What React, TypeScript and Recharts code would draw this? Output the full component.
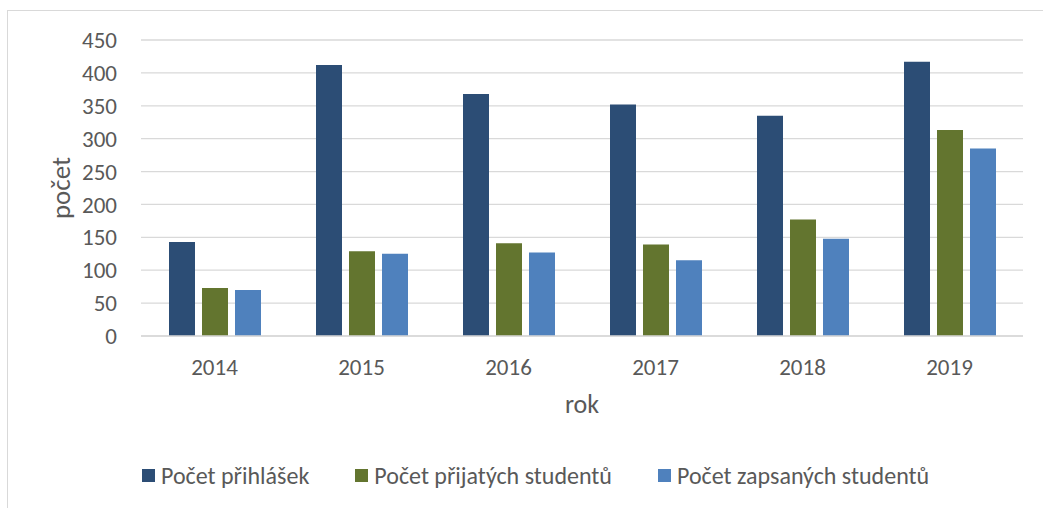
import React from 'react';
import { BarChart, Bar, XAxis, YAxis, CartesianGrid, Legend } from 'recharts';

const years = ['2014', '2015', '2016', '2017', '2018', '2019'];
const prihlasky = [143, 412, 368, 352, 335, 417];
const prijati = [73, 129, 141, 139, 177, 313];
const zapsani = [70, 125, 127, 115, 148, 285];
const yTicks = [0, 50, 100, 150, 200, 250, 300, 350, 400, 450];

const series = [
  { key: 'prihlasky', name: 'Počet přihlášek', color: '#2C4D75' },
  { key: 'prijati', name: 'Počet přijatých studentů', color: '#63752F' },
  { key: 'zapsani', name: 'Počet zapsaných studentů', color: '#4F81BD' },
];

const data = years.map((rok, i) => ({
  rok,
  prihlasky: prihlasky[i],
  prijati: prijati[i],
  zapsani: zapsani[i],
}));

const FONT = "Carlito, 'Liberation Sans Narrow', 'Noto Sans', sans-serif";
const TEXT = '#595959';
const GRID = '#D9D9D9';

const YLabel = (props: any) => {
  const vb = props.viewBox || {};
  const cx = 60;
  const cy = (vb.y || 0) + (vb.height || 0) / 2;
  return (
    <text x={cx} y={cy} transform={`rotate(-90, ${cx}, ${cy})`} textAnchor="middle" dominantBaseline="central"
      fill={TEXT} fontSize={27} fontFamily={FONT}>
      počet
    </text>
  );
};

const LegendContent = () => (
  <div style={{ display: 'flex', alignItems: 'center', paddingLeft: 142, fontFamily: FONT, fontSize: 24, color: TEXT }}>
    {series.map((s) => (
      <div key={s.key} style={{ display: 'flex', alignItems: 'center', marginRight: 46 }}>
        <span style={{ width: 13, height: 13, background: s.color, display: 'inline-block', marginRight: 6 }} />
        <span>{s.name}</span>
      </div>
    ))}
  </div>
);

export default function App() {
  return (
    <div style={{ position: 'absolute', left: 0, top: 0, width: 1043, height: 508, overflow: 'hidden', background: '#fff' }}>
      <div style={{ position: 'absolute', left: 7, top: 10, width: 1100, height: 600, border: `1px solid ${GRID}` }} />
      <BarChart width={1043} height={508} data={data} margin={{ top: 40, right: 20, left: 0, bottom: 82 }}
        barCategoryGap={28} barGap={7}>
        <CartesianGrid vertical={false} stroke={GRID} strokeWidth={1.3} />
        <XAxis dataKey="rok" axisLine={{ stroke: GRID, strokeWidth: 1.3 }} tickLine={false} tickSize={8} tickMargin={15}
          height={90} tick={{ fill: TEXT, fontSize: 23, fontFamily: FONT }}
          label={{ value: 'rok', position: 'insideBottom', offset: 13, fill: TEXT, fontSize: 26, fontFamily: FONT }} />
        <YAxis width={141} domain={[0, 450]} ticks={yTicks} axisLine={false} tickLine={false} tickSize={8} tickMargin={16}
          tick={{ fill: TEXT, fontSize: 23, fontFamily: FONT }} label={<YLabel />} interval={0} />
        {series.map((s) => (
          <Bar key={s.key} dataKey={s.key} name={s.name} fill={s.color} isAnimationActive={false} />
        ))}
        <Legend layout="horizontal" verticalAlign="middle" content={<LegendContent />}
          wrapperStyle={{ top: 461, left: 0, width: 1043 }} />
      </BarChart>
    </div>
  );
}
